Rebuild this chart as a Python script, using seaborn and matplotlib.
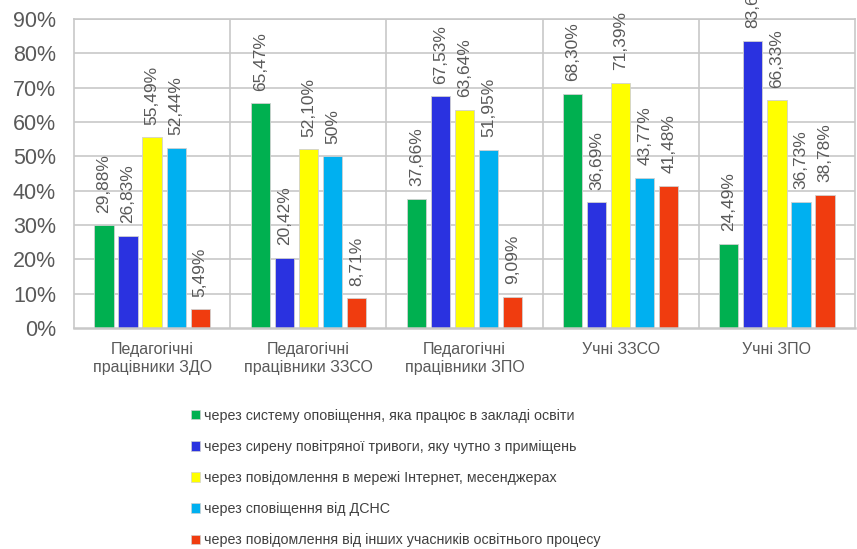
import pandas as pd
import matplotlib.pyplot as plt
import seaborn as sns
from matplotlib.patches import Patch

sns.set_style('white')
plt.rcParams['font.family'] = ['Liberation Sans', 'DejaVu Sans']

groups = ['Педагогічні\nпрацівники ЗДО', 'Педагогічні\nпрацівники ЗЗСО',
          'Педагогічні\nпрацівники ЗПО', 'Учні ЗЗСО', 'Учні ЗПО']
methods = ['через систему оповіщення, яка працює в закладі освіти',
           'через сирену повітряної тривоги, яку чутно з приміщень',
           'через повідомлення в мережі Інтернет, месенджерах',
           'через сповіщення від ДСНС',
           'через повідомлення від інших учасників освітнього процесу']

# values per method, one entry per group (percent)
system_alert = [29.88, 65.47, 37.66, 68.30, 24.49]
siren = [26.83, 20.42, 67.53, 36.69, 83.67]
internet = [55.49, 52.10, 63.64, 71.39, 66.33]
dsns = [52.44, 50.00, 51.95, 43.77, 36.73]
others = [5.49, 8.71, 9.09, 41.48, 38.78]

colors = ['#00B050', '#2A32E0', '#FFFF00', '#00B0F0', '#F03C0F']

series = [system_alert, siren, internet, dsns, others]
rows = []
for m, vals in zip(methods, series):
    for g, v in zip(groups, vals):
        rows.append({'group': g, 'method': m, 'value': v / 100})
df = pd.DataFrame(rows)

fig = plt.figure(figsize=(8.57, 5.49), dpi=100)
ax = fig.add_axes([74 / 857, 1 - 328 / 549, 781 / 857, 309 / 549])

sns.barplot(data=df, x='group', y='value', hue='method', order=groups,
            hue_order=methods, palette=colors, saturation=1, width=0.77,
            gap=0.2, edgecolor='#d0d0d0', linewidth=0.6, ax=ax)
ax.get_legend().remove()

def fmt(v):
    if abs(v - round(v)) < 1e-9:
        return f'{int(round(v))}%'
    return f'{v:.2f}'.replace('.', ',') + '%'

for cont, vals in zip(ax.containers, series):
    ax.bar_label(cont, labels=[fmt(v) for v in vals], rotation=90,
                 padding=9, fontsize=12.5, color='#595959')

ax.set_ylim(0, 0.9)
ax.set_xlim(-0.5, len(groups) - 0.5)
ax.set_yticks([i / 10 for i in range(10)])
ax.set_yticklabels([f'{i * 10}%' for i in range(10)])
ax.set_xlabel('')
ax.set_ylabel('')

grid_c = '#c8c8c8'
for y in [i / 10 for i in range(1, 10)]:
    ax.axhline(y, color=grid_c, lw=1.2, zorder=0)
for x in [i + 0.5 for i in range(len(groups) - 1)]:
    ax.axvline(x, color=grid_c, lw=1.2, zorder=0)
for s in ax.spines.values():
    s.set_visible(True)
    s.set_color(grid_c)
    s.set_linewidth(1.2)
ax.spines['bottom'].set_linewidth(1.8)

ax.tick_params(axis='y', length=0, pad=13, labelsize=15.5, labelcolor='#595959')
ax.tick_params(axis='x', length=0, pad=10, labelsize=11.5, labelcolor='#595959')
for t in ax.get_xticklabels():
    t.set_linespacing(1.3)

handles = [Patch(facecolor=c, edgecolor='#d0d0d0', linewidth=0.5) for c in colors]
fig.legend(handles, methods, loc='upper left',
           bbox_to_anchor=(185 / 857, 1 - 403 / 549), frameon=False,
           fontsize=10.3, labelcolor='#404040', labelspacing=1.2,
           handlelength=0.65, handleheight=0.65, handletextpad=0.3,
           borderaxespad=0)

fig.savefig('out.png', dpi=100)
